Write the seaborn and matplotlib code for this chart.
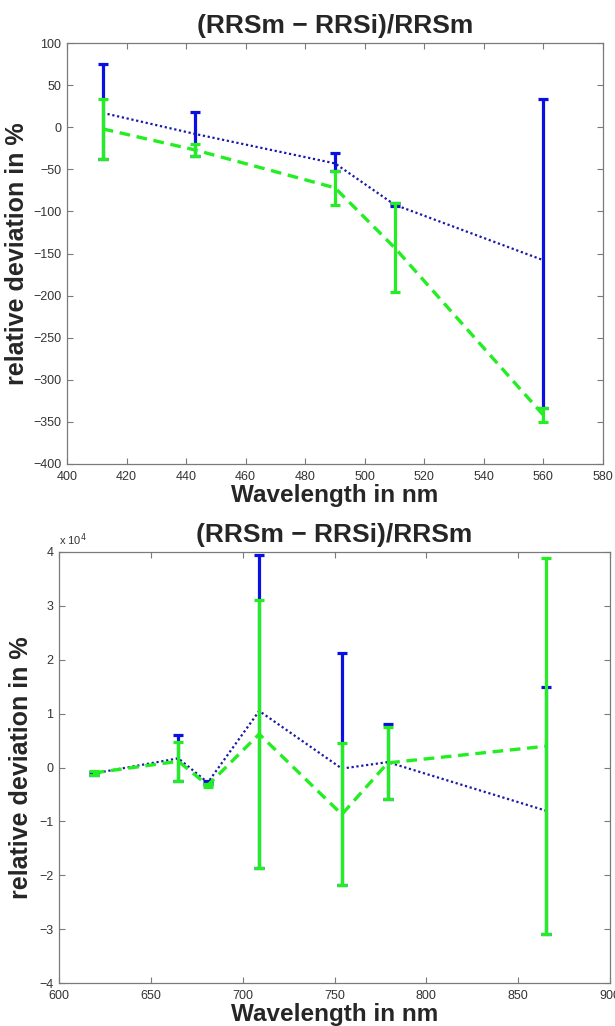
import matplotlib
matplotlib.use("Agg")
import matplotlib.pyplot as plt
import seaborn as sns
import numpy as np
import pandas as pd
from matplotlib.ticker import FuncFormatter

# ---- data: top panel (visible bands) ----
wl_top = [412, 443, 490, 510, 560]
blue_top = [17, -8, -43, -92, -158]
blue_top_err_lo = [55, 26, 9, 2, 176]
blue_top_err_hi = [58, 26, 12, 2, 192]
green_top = [-2, -27, -72, -143, -342]
green_top_err = [36, 7, 20, 53, 8]

# ---- data: bottom panel (red / NIR bands) ----
wl_bot = [619, 665, 681, 709, 754, 779, 865]
blue_bot = [-1100, 1700, -2800, 10500, -200, 1000, -8000]
blue_bot_err_lo = [300, 4200, 300, 29100, 21700, 6900, 22900]
blue_bot_err_hi = [300, 4300, 300, 29000, 21500, 7000, 23000]
green_bot = [-1000, 1150, -3300, 6200, -8700, 850, 3950]
green_bot_err = [400, 3650, 300, 24800, 13200, 6750, 34850]

title = "(RRSm \u2212 RRSi)/RRSm"
xlab = "Wavelength in nm"
ylab = "relative deviation in %"

sns.set_theme(style="white")
plt.rcParams['font.family'] = ['Liberation Sans', 'DejaVu Sans']
plt.rcParams['axes.unicode_minus'] = True

BLUE_LINE = "#1a1aa8"
BLUE_BAR = "#0a10e0"
GREEN = "#22ee22"
SPINE = "#7a7a7a"

fig = plt.figure(figsize=(6.15, 10.26), dpi=100)

def panel(ax, x, b, be_lo, be_hi, g, ge, ylab_x):
    df = pd.DataFrame({"x": x, "b": b, "g": g})
    ax.errorbar(x, b, yerr=[be_lo, be_hi], fmt="none", ecolor=BLUE_BAR,
                elinewidth=2.3, capsize=3.6, capthick=2.3, zorder=2)
    sns.lineplot(data=df, x="x", y="b", ax=ax, color=BLUE_LINE, lw=1.6,
                 linestyle=(0, (1, 1.2)), zorder=3)
    ax.errorbar(x, g, yerr=ge, fmt="none", ecolor=GREEN, elinewidth=2.3,
                capsize=3.6, capthick=2.3, zorder=4)
    sns.lineplot(data=df, x="x", y="g", ax=ax, color=GREEN, lw=2.4,
                 linestyle=(0, (3.2, 2.0)), zorder=5)
    for s in ax.spines.values():
        s.set_color(SPINE)
        s.set_linewidth(0.9)
    ax.tick_params(direction="in", length=4, width=0.8, color=SPINE,
                   top=True, right=True, bottom=True, left=True,
                   labelsize=9, labelcolor="#333333")
    ax.tick_params(axis="x", pad=5)
    ax.tick_params(axis="y", pad=4)
    ax.set_title(title, fontsize=19, fontweight="bold", pad=7)
    ax.set_xlabel(xlab, fontsize=17.5, fontweight="bold", labelpad=1)
    ax.set_ylabel(ylab, fontsize=18, fontweight="bold")
    ax.yaxis.set_label_coords(ylab_x, 0.5)

ax1 = fig.add_axes([67/615, (1026-464)/1026, 536/615, 421/1026])
panel(ax1, wl_top, blue_top, blue_top_err_lo, blue_top_err_hi,
      green_top, green_top_err, -0.071)
ax1.set_xlim(400, 580)
ax1.set_ylim(-400, 100)
ax1.set_xticks(np.arange(400, 581, 20))
ax1.set_yticks(np.arange(-400, 101, 50))

ax2 = fig.add_axes([59/615, (1026-983)/1026, 551/615, 431/1026])
panel(ax2, wl_bot, blue_bot, blue_bot_err_lo, blue_bot_err_hi,
      green_bot, green_bot_err, -0.047)
ax2.set_xlim(600, 900)
ax2.set_ylim(-40000, 40000)
ax2.set_xticks(np.arange(600, 901, 50))
ax2.set_yticks(np.arange(-40000, 40001, 10000))
ax2.yaxis.set_major_formatter(FuncFormatter(lambda v, p: f"{v/1e4:.0f}".replace("-", "\u2212")))
ax2.text(0.0, 1.01, r"x 10$^{4}$", transform=ax2.transAxes, fontsize=8,
         color="#333333", ha="left", va="bottom")

fig.savefig("out.png", dpi=100)
